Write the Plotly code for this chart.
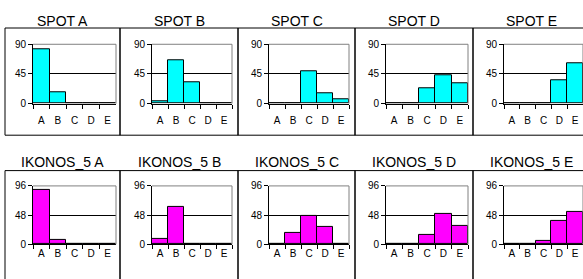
import plotly.graph_objects as go

categories = ["A", "B", "C", "D", "E"]

spot_titles = ["SPOT A", "SPOT B", "SPOT C", "SPOT D", "SPOT E"]
spot_values = [
    [82, 17, 0, 0, 0],
    [4, 66, 33, 0, 0],
    [0, 0, 49, 16, 6],
    [0, 0, 23, 43, 31],
    [0, 0, 0, 36, 61],
]
spot_ticks = [0, 45, 90]

ikonos_titles = ["IKONOS_5 A", "IKONOS_5 B", "IKONOS_5 C", "IKONOS_5 D", "IKONOS_5 E"]
ikonos_values = [
    [90, 7, 0, 0, 0],
    [9, 61, 0, 0, 0],
    [0, 19, 46, 29, 0],
    [0, 0, 15, 50, 31],
    [0, 0, 5, 38, 53],
]
ikonos_ticks = [0, 48, 96]

W, H = 583, 279
FONT = "Liberation Sans, Arial, sans-serif"

box_left = [5, 120, 238, 355, 473]
box_right = [120, 238, 355, 473, 600]
plot_left = [33, 152, 269, 386, 504]
plot_right = [116, 232, 349, 468, 583]

rows = [
    dict(titles=spot_titles, values=spot_values, ticks=spot_ticks, color="#00FFFF",
         box=(23, 135), plot=(40, 102), title_y=16, standoff=7),
    dict(titles=ikonos_titles, values=ikonos_values, ticks=ikonos_ticks, color="#FF00FF",
         box=(172, 300), plot=(188, 249), title_y=163, standoff=0),
]

fig = go.Figure()
layout = dict(
    width=W, height=H, margin=dict(l=0, r=0, t=0, b=0),
    paper_bgcolor="white", plot_bgcolor="white",
    showlegend=False, bargap=0,
    font=dict(family=FONT, size=10, color="black"),
    shapes=[], annotations=[],
)

idx = 0
for r in rows:
    for c in range(5):
        idx += 1
        key = "" if idx == 1 else str(idx)
        xa = "x" + key
        ya = "y" + key
        fig.add_trace(go.Bar(
            x=categories, y=r["values"][c], xaxis=xa, yaxis=ya,
            marker=dict(color=r["color"], line=dict(color="black", width=1)),
            hoverinfo="x+y",
        ))
        layout["xaxis" + key] = dict(
            domain=[plot_left[c] / W, plot_right[c] / W],
            anchor=ya, type="category", categoryorder="array",
            categoryarray=categories, range=[-0.5, 4.5],
            showline=True, linecolor="black", linewidth=1,
            ticks="outside", tickson="boundaries", ticklen=4, tickcolor="black",
            tickangle=0, ticklabelstandoff=r["standoff"],
            showgrid=False, zeroline=False, fixedrange=True,
            tickfont=dict(family=FONT, size=10, color="black"),
        )
        layout["yaxis" + key] = dict(
            domain=[1 - r["plot"][1] / H, 1 - r["plot"][0] / H],
            anchor=xa, range=[0, r["ticks"][-1]], tickvals=r["ticks"],
            showline=True, linecolor="black", linewidth=1,
            ticks="outside", ticklen=4, tickcolor="black",
            showgrid=True, gridcolor="black", gridwidth=1,
            zeroline=False, fixedrange=True,
            tickfont=dict(family=FONT, size=10, color="black"),
        )
        # gray plot-area border (top and right)
        layout["shapes"].append(dict(
            type="path", xref=f"{xa} domain", yref=f"{ya} domain",
            path="M 0 1 L 1 1 L 1 0", line=dict(color="#808080", width=1),
            layer="above",
        ))
        # outer chart box
        layout["shapes"].append(dict(
            type="rect", xref="paper", yref="paper",
            x0=box_left[c] / W, x1=box_right[c] / W,
            y0=1 - r["box"][1] / H, y1=1 - r["box"][0] / H,
            line=dict(color="black", width=1), layer="below",
        ))
        layout["annotations"].append(dict(
            text=r["titles"][c], xref="paper", yref="paper",
            x=(box_left[c] + min(box_right[c], 590)) / 2 / W, y=1 - r["title_y"] / H,
            xanchor="center", yanchor="middle", showarrow=False,
            font=dict(family=FONT, size=14, color="black"),
        ))

fig.update_layout(**layout)
fig.write_html(
    "out.html",
    config={"displayModeBar": False},
    post_script="document.body.style.margin='0';document.body.style.overflow='hidden';",
)
